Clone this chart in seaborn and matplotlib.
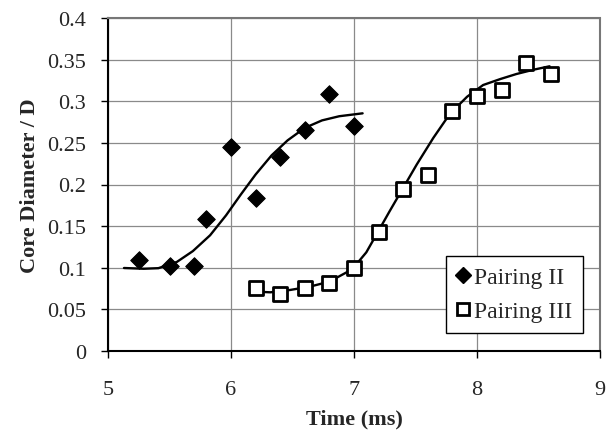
import pandas as pd
import matplotlib
matplotlib.use("Agg")
import matplotlib.pyplot as plt
import seaborn as sns
from matplotlib.lines import Line2D

# Measured core diameter (normalised by D) against time
time_ii = [5.25, 5.5, 5.7, 5.8, 6.0, 6.2, 6.4, 6.6, 6.8, 7.0]
core_ii = [0.109, 0.102, 0.102, 0.158, 0.245, 0.184, 0.233, 0.265, 0.309, 0.270]

time_iii = [6.2, 6.4, 6.6, 6.8, 7.0, 7.2, 7.4, 7.6, 7.8, 8.0, 8.2, 8.4, 8.6]
core_iii = [0.076, 0.068, 0.076, 0.082, 0.100, 0.143, 0.195, 0.212, 0.288, 0.306, 0.313, 0.346, 0.333]

# Smooth trend curves through each series
fit_time_ii = [5.13, 5.29, 5.41, 5.56, 5.69, 5.83, 5.96, 6.08, 6.20, 6.33,
               6.46, 6.60, 6.74, 6.88, 7.07]
fit_core_ii = [0.0997, 0.0988, 0.0995, 0.107, 0.120, 0.139, 0.163, 0.188, 0.212,
               0.235, 0.253, 0.268, 0.277, 0.282, 0.2855]

fit_time_iii = [6.17, 6.32, 6.48, 6.64, 6.80, 6.94, 7.01, 7.10, 7.20, 7.29, 7.40,
                7.51, 7.645, 7.78, 7.92, 8.05, 8.19, 8.32, 8.46, 8.59]
fit_core_iii = [0.0715, 0.0705, 0.0733, 0.0773, 0.0833, 0.0945, 0.1025, 0.1185,
                0.1445, 0.168, 0.196, 0.224, 0.256, 0.285, 0.3055, 0.3195,
                0.3267, 0.3327, 0.3379, 0.342]

x_ticks = [5, 6, 7, 8, 9]
y_ticks = [0, 0.05, 0.1, 0.15, 0.2, 0.25, 0.3, 0.35, 0.4]
y_tick_labels = ["0", "0.05", "0.1", "0.15", "0.2", "0.25", "0.3", "0.35", "0.4"]

sns.set_theme(style="white")
plt.rcParams["font.family"] = ["Liberation Serif", "DejaVu Serif"]

df = pd.concat([
    pd.DataFrame({"t": time_ii, "d": core_ii, "series": "Pairing II"}),
    pd.DataFrame({"t": time_iii, "d": core_iii, "series": "Pairing III"}),
])

fig = plt.figure(figsize=(6.13, 4.39), dpi=100)
ax = fig.add_axes([108 / 613, 1 - 352 / 439, (600 - 108) / 613, (352 - 19) / 439])

sns.lineplot(x=fit_time_ii, y=fit_core_ii, ax=ax, color="black", lw=1.7,
             sort=False, zorder=3)
sns.lineplot(x=fit_time_iii, y=fit_core_iii, ax=ax, color="black", lw=1.7,
             sort=False, zorder=3)

sns.scatterplot(data=df[df.series == "Pairing II"], x="t", y="d", marker="D",
                s=80, color="black", edgecolor="black", ax=ax, zorder=4, legend=False)
sns.scatterplot(data=df[df.series == "Pairing III"], x="t", y="d", marker="s",
                s=95, facecolor="white", edgecolor="black", linewidth=2, ax=ax,
                zorder=4, legend=False)

ax.set_xlim(5, 9)
ax.set_ylim(0, 0.4)
ax.set_xticks(x_ticks)
ax.set_yticks(y_ticks)
ax.set_yticklabels(y_tick_labels)
ax.grid(True, color="#8a8a8a", lw=0.9)
ax.set_axisbelow(True)
ax.tick_params(axis="both", direction="out", length=5, width=1, color="black",
               labelsize=16, left=True, bottom=True)
ax.tick_params(axis="y", pad=11)
ax.tick_params(axis="x", pad=16)
for s in ["left", "bottom"]:
    ax.spines[s].set_color("black")
    ax.spines[s].set_linewidth(1.5)
for s in ["top", "right"]:
    ax.spines[s].set_color("#777777")
    ax.spines[s].set_linewidth(1.5)
    ax.spines[s].set_linestyle((0, (1, 1)))

ax.set_xlabel("Time (ms)", fontsize=16, fontweight="bold", labelpad=7)
ax.set_ylabel("Core Diameter / D", fontsize=16, fontweight="bold", labelpad=5)

handles = [
    Line2D([], [], marker="D", color="black", ls="none", markersize=8.5),
    Line2D([], [], marker="s", markerfacecolor="white", markeredgecolor="black",
           markeredgewidth=2, ls="none", markersize=9),
]
leg = ax.legend(handles, ["Pairing II", "Pairing III"], loc="lower right",
                bbox_to_anchor=(0.965, 0.054), fontsize=17, frameon=True,
                fancybox=False, edgecolor="black", framealpha=1,
                handlelength=0.55, handletextpad=0.2, borderpad=0.45,
                labelspacing=0.55, borderaxespad=0)
leg.get_frame().set_linewidth(1.0)

fig.savefig("out.png", dpi=100)
